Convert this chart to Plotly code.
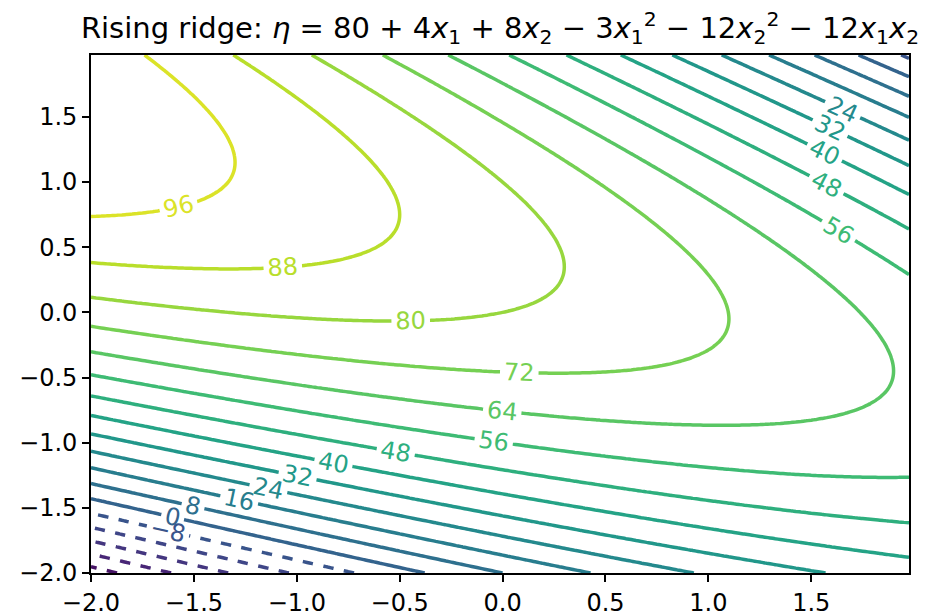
import numpy as np
import plotly.graph_objects as go
from plotly.colors import sample_colorscale

# response surface coefficients: b0, b1, b2, b11, b22, b12
b0 = 80
b_lin = [-4, 12]
b_quad = [-3, -12]
b_cross = -12

x1 = np.arange(-2, 2, 0.025)
x2 = np.arange(-2, 2, 0.025)
X1, X2 = np.meshgrid(x1, x2)
eta = (b0 + b_lin[0] * X1 + b_lin[1] * X2 + b_quad[0] * X1**2
       + b_quad[1] * X2**2 + b_cross * X1 * X2)

levels = list(range(-40, 97, 8))
# colour norm spans the locator's levels (-48 .. 104), like matplotlib
vmin, vmax = -48, 104

fig = go.Figure()
for lev in levels:
    c = sample_colorscale("Viridis", [(lev - vmin) / (vmax - vmin)])[0]
    fig.add_trace(go.Contour(
        x=x1, y=x2, z=eta,
        autocontour=False,
        contours=dict(start=lev, end=lev, size=8, coloring="lines",
                      showlabels=True,
                      labelfont=dict(size=24, family="DejaVu Sans", color=c)),
        colorscale=[[0, c], [1, c]],
        line=dict(width=3.5, dash="dash" if lev < 0 else "solid"),
        showscale=False, hoverinfo="skip",
    ))

title = ("Rising ridge: <i>η</i> = 80 + 4<i>x</i><sub>1</sub> + 8<i>x</i><sub>2</sub>"
         " − 3<i>x</i><sub>1</sub><sup>2</sup> − 12<i>x</i><sub>2</sub><sup>2</sup>"
         " − 12<i>x</i><sub>1</sub><i>x</i><sub>2</sub>")

axis_style = dict(
    showgrid=False, zeroline=False, showline=True, mirror=True,
    linecolor="black", linewidth=1.8, ticks="outside", ticklen=7,
    tickwidth=1.8, tickcolor="black", tickformat=".1f", dtick=0.5,
    tickfont=dict(size=24, color="black", family="DejaVu Sans"),
    automargin=False,
)

fig.update_layout(
    width=931, height=615,
    paper_bgcolor="white", plot_bgcolor="white",
    font=dict(family="DejaVu Sans", color="black"),
    title=dict(text=title, x=0.5, xref="paper", xanchor="center",
               y=0.968, yanchor="middle",
               font=dict(size=29, family="DejaVu Sans", color="black")),
    margin=dict(l=83, r=30, t=47, b=50),
    xaxis=dict(range=[-2, 1.975], tick0=-2, **axis_style),
    yaxis=dict(range=[-2, 1.975], tick0=-2, **axis_style),
)

fig.write_html("out.html")
